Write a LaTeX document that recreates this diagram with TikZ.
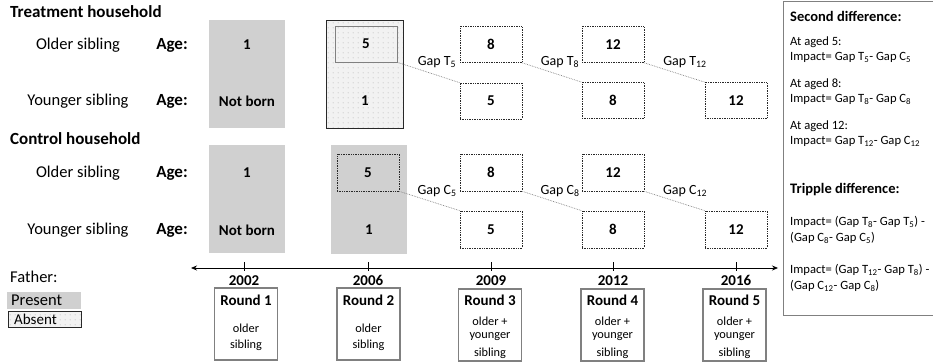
\documentclass[tikz,border=0pt]{standalone}
\usepackage{fontspec}
\setmainfont{Carlito}
\usetikzlibrary{patterns,arrows.meta}
\definecolor{boxgray}{RGB}{208,208,208}
\definecolor{dotbg}{RGB}{242,242,242}
\definecolor{framegray}{RGB}{128,128,128}
\definecolor{darkline}{RGB}{40,40,40}
\pgfdeclarepatternformonly{sparsedots}{\pgfpointorigin}{\pgfpoint{4.6pt}{4.6pt}}{\pgfpoint{4.6pt}{4.6pt}}{\pgfpathcircle{\pgfpoint{1.2pt}{1.2pt}}{0.45pt}\pgfusepath{fill}}
\newcommand{\fsz}[1]{\fontsize{#1}{#1}\selectfont}
\tikzset{
  lbl/.style={font=\fsz{16.5}, inner sep=0pt},
  blbl/.style={font=\fsz{17}\bfseries, inner sep=0pt},
  num/.style={font=\fsz{15}\bfseries, inner sep=0pt},
  gaplbl/.style={font=\fsz{14}, inner sep=0pt},
  small/.style={font=\fsz{12.3}, inner sep=0pt},
  panelhead/.style={font=\fsz{14.5}\bfseries, inner sep=0pt, anchor=west},
  paneltxt/.style={font=\fsz{12.6}, inner sep=0pt, anchor=west},
  graycol/.style={fill=boxgray, draw=none, minimum width=76pt, minimum height=108pt, inner sep=0pt},
  dotfill/.style={preaction={fill=dotbg}, pattern=sparsedots, pattern color=gray!85},
  dotcol/.style={dotfill, draw=darkline, line width=0.9pt, minimum width=77pt, minimum height=108pt, inner sep=0pt},
  agebox/.style={draw=darkline, densely dotted, line width=0.7pt, minimum width=62pt, minimum height=36pt, inner sep=0pt, font=\fsz{15}\bfseries},
  innersolid/.style={draw=gray, line width=0.7pt, minimum width=62pt, minimum height=36pt, inner sep=0pt, font=\fsz{15}\bfseries},
  gapline/.style={draw=gray, densely dotted, line width=0.7pt},
  roundbox/.style={draw=framegray, line width=1.5pt, minimum width=63pt, minimum height=72pt, inner sep=0pt},
  tick/.style={draw=black, line width=0.6pt}
}
\begin{document}
\begin{tikzpicture}[x=1pt,y=-1pt]
\useasboundingbox (0,0) rectangle (933,363);

% ---------------- Treatment household ----------------
\node[blbl, anchor=west] (thead) at (10,12) {Treatment household};
\node[lbl] (tolder) at (78,45) {Older sibling};
\node[blbl] (tage1) at (172,45) {Age:};
\node[lbl] (tyoung) at (78,101) {Younger sibling};
\node[blbl] (tage2) at (172,101) {Age:};

\node[graycol] (tc1) at (247,74) {};
\node[num] (tc1a) at (247,45) {1};
\node[num] (tc1b) at (247,101) {Not born};

\node[dotcol] (tc2) at (364.5,74) {};
\node[innersolid] (tc2top) at (366,44) {5};
\node[num] (tc2b) at (365,101) {1};

\node[agebox] (tc3top) at (491,44.5) {8};
\node[agebox] (tc3bot) at (491,101) {5};
\node[agebox] (tc4top) at (613,44.5) {12};
\node[agebox] (tc4bot) at (613,100.5) {8};
\node[agebox] (tc5bot) at (736,100.5) {12};

\draw[gapline] (tc2top.south east) -- (tc3bot.north west);
\draw[gapline] (tc3top.south east) -- (tc4bot.north west);
\draw[gapline] (tc4top.south east) -- (tc5bot.north west);
\node[gaplbl] (tg5) at (437,62) {Gap T\textsubscript{5}};
\node[gaplbl] (tg8) at (560,62) {Gap T\textsubscript{8}};
\node[gaplbl] (tg12) at (685,62) {Gap T\textsubscript{12}};

% ---------------- Control household ----------------
\node[blbl, anchor=west] (chead) at (10,139) {Control household};
\node[lbl] (colder) at (78,173) {Older sibling};
\node[blbl] (cage1) at (172,173) {Age:};
\node[lbl] (cyoung) at (78,230) {Younger sibling};
\node[blbl] (cage2) at (172,230) {Age:};

\node[graycol] (cc1) at (247,199) {};
\node[num] (cc1a) at (247,173) {1};
\node[num] (cc1b) at (247,230) {Not born};

\node[graycol, minimum height=109pt] (cc2) at (369,199.5) {};
\node[agebox, minimum height=37pt] (cc2top) at (368,172.5) {5};
\node[num] (cc2b) at (369,230) {1};

\node[agebox, minimum height=37pt] (cc3top) at (491,172.5) {8};
\node[agebox, minimum height=37pt] (cc3bot) at (491,229.5) {5};
\node[agebox, minimum height=37pt] (cc4top) at (613,172.5) {12};
\node[agebox, minimum height=37pt] (cc4bot) at (613,229.5) {8};
\node[agebox, minimum height=37pt] (cc5bot) at (736,229.5) {12};

\draw[gapline] (cc2top.south east) -- (cc3bot.north west);
\draw[gapline] (cc3top.south east) -- (cc4bot.north west);
\draw[gapline] (cc4top.south east) -- (cc5bot.north west);
\node[gaplbl] (cg5) at (437,191) {Gap C\textsubscript{5}};
\node[gaplbl] (cg8) at (560,191) {Gap C\textsubscript{8}};
\node[gaplbl] (cg12) at (685,191) {Gap C\textsubscript{12}};

% ---------------- Timeline ----------------
\coordinate (tlL) at (191,268);
\coordinate (tlR) at (778,268);
\draw[line width=0.8pt, {Stealth[length=6pt,width=5pt]}-{Stealth[length=6pt,width=5pt]}] (tlL) -- (tlR);
\foreach \x/\yr/\n in {244/2002/1, 368/2006/2, 491/2009/3, 613/2012/4, 736/2016/5}{
  \draw[tick] (\x,262) -- (\x,271);
  \node[num] (yr\n) at (\x,280.5) {\yr};
}
\node[roundbox] (r1) at (246,324) {};
\node[roundbox] (r2) at (368.5,324) {};
\node[roundbox] (r3) at (490,325) {};
\node[roundbox] (r4) at (612.5,325) {};
\node[roundbox] (r5) at (734.5,325) {};
\node[num] (r1t) at (246,300) {Round 1};
\node[num] (r2t) at (368.5,300) {Round 2};
\node[num] (r3t) at (490,300) {Round 3};
\node[num] (r4t) at (612.5,300) {Round 4};
\node[num] (r5t) at (734.5,300) {Round 5};
\node[small] (r1a) at (246,328) {older};
\node[small] (r1b) at (246,345) {sibling};
\node[small] (r2a) at (368.5,328) {older};
\node[small] (r2b) at (368.5,345) {sibling};
\foreach \n/\x in {3/490, 4/612.5, 5/734.5}{
  \node[small] (r\n a) at (\x,321) {older +};
  \node[small] (r\n b) at (\x,337) {younger};
  \node[small] (r\n c) at (\x,353.5) {sibling};
}

% ---------------- Legend ----------------
\node[lbl, anchor=west] (father) at (10,277) {Father:};
\node[fill=boxgray, minimum width=74pt, minimum height=17pt, inner sep=0pt] (present) at (44,300.5) {};
\node[lbl, anchor=west] (presentt) at (11,300.5) {Present};
\node[dotfill, draw=darkline, line width=0.9pt, minimum width=73pt, minimum height=16pt, inner sep=0pt] (absent) at (44.5,319) {};
\node[font=\fsz{15}, inner sep=0pt, anchor=west] (absentt) at (14,319) {Absent};

% ---------------- Right panel ----------------
\node[draw=framegray, line width=0.9pt, minimum width=160pt, minimum height=314pt, inner sep=0pt, anchor=north west] (panel) at (783,1) {};
\node[panelhead] (p1) at (790,16) {Second difference:};
\node[paneltxt] (p2) at (790,42) {At aged 5:};
\node[paneltxt] (p3) at (790,57.5) {Impact= Gap T\textsubscript{5}- Gap C\textsubscript{5}};
\node[paneltxt] (p4) at (790,84) {At aged 8:};
\node[paneltxt] (p5) at (790,99.5) {Impact= Gap T\textsubscript{8}- Gap C\textsubscript{8}};
\node[paneltxt] (p6) at (790,126) {At aged 12:};
\node[paneltxt] (p7) at (790,141.5) {Impact= Gap T\textsubscript{12}- Gap C\textsubscript{12}};
\node[panelhead] (p8) at (790,190) {Tripple difference:};
\node[paneltxt] (p9) at (790,222) {Impact= (Gap T\textsubscript{8}- Gap T\textsubscript{5}) -};
\node[paneltxt] (p10) at (790,238) {(Gap C\textsubscript{8}- Gap C\textsubscript{5})};
\node[paneltxt] (p11) at (790,270) {Impact= (Gap T\textsubscript{12}- Gap T\textsubscript{8}) -};
\node[paneltxt] (p12) at (790,286) {(Gap C\textsubscript{12}- Gap C\textsubscript{8})};
\end{tikzpicture}
\end{document}
